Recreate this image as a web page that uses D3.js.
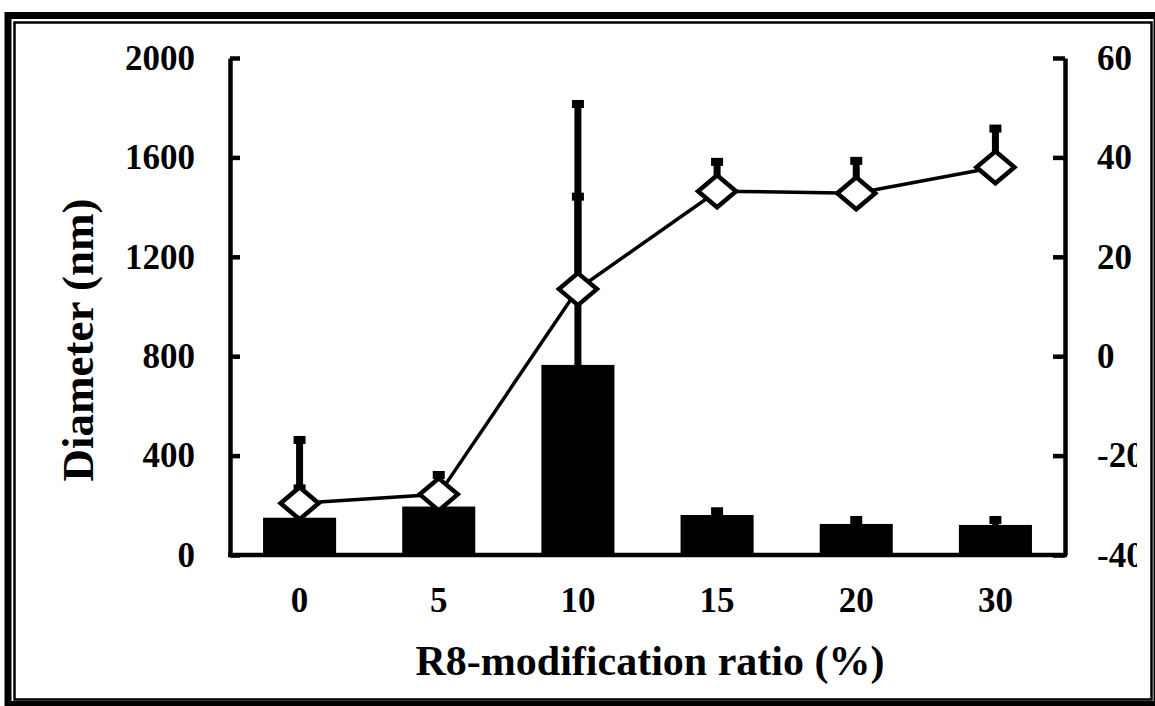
<!DOCTYPE html>
<html>
<head>
<meta charset="utf-8">
<script src="https://cdn.jsdelivr.net/npm/d3@7/dist/d3.min.js"></script>
<style>
  body { margin: 0; background: #fff; }
  svg { display: block; }
  text { font-family: "Liberation Serif", "Times New Roman", serif; font-weight: bold; fill: #000; }
</style>
</head>
<body>
<script>
var categories = ["0", "5", "10", "15", "20", "30"];
var diameter = [150, 195, 765, 161, 125, 121];
var diameterErr = [313, 40, 1050, 15, 16, 20];
var zeta = [-29.6, -27.8, 13.5, 33.2, 32.8, 38.0];
var zetaErr = [3, 3.9, 18.6, 5.9, 6.5, 7.8];
var leftTicks = [0, 400, 800, 1200, 1600, 2000];
var rightTicks = [-40, -20, 0, 20, 40, 60];

var width = 1155;
var height = 706;
var plotLeft = 230, plotRight = 1065, plotTop = 58, plotBottom = 555;

var svg = d3.select("body").append("svg").attr("width", width).attr("height", height);

// double frame
svg.append("rect")
    .attr("x", 8).attr("y", 15.5).attr("width", 1149).attr("height", 689)
    .attr("fill", "none").attr("stroke", "#000").attr("stroke-width", 7);
svg.append("rect")
    .attr("x", 14.5).attr("y", 22.5).attr("width", 1137).attr("height", 677)
    .attr("fill", "none").attr("stroke", "#000").attr("stroke-width", 2.5);

var xScale = d3.scaleBand()
    .domain(categories)
    .range([plotLeft, plotRight])
    .paddingInner(0.475)
    .paddingOuter(0.2375);

var yLeft = d3.scaleLinear().domain([0, 2000]).range([plotBottom, plotTop]);
var yRight = d3.scaleLinear().domain([-40, 60]).range([plotBottom, plotTop]);

function cx(i) { return xScale(categories[i]) + xScale.bandwidth() / 2; }
function plain(d) { return String(d); }

// bars
svg.append("g")
    .selectAll("rect")
    .data(diameter)
    .enter()
    .append("rect")
    .attr("x", function(d, i) { return xScale(categories[i]); })
    .attr("y", function(d) { return yLeft(d); })
    .attr("width", xScale.bandwidth())
    .attr("height", function(d) { return yLeft(0) - yLeft(d); })
    .attr("fill", "#000");

// error bars (upper only)
function errorBars(vals, errs, scale) {
    var g = svg.append("g");
    g.selectAll("line")
        .data(vals)
        .enter()
        .append("line")
        .attr("x1", function(d, i) { return cx(i); })
        .attr("x2", function(d, i) { return cx(i); })
        .attr("y1", function(d) { return scale(d); })
        .attr("y2", function(d, i) { return scale(d + errs[i]); })
        .attr("stroke", "#000")
        .attr("stroke-width", 7);
    g.selectAll("rect")
        .data(vals)
        .enter()
        .append("rect")
        .attr("x", function(d, i) { return cx(i) - 6; })
        .attr("y", function(d, i) { return scale(d + errs[i]) - 4; })
        .attr("width", 12)
        .attr("height", 8)
        .attr("fill", "#000");
}
errorBars(diameter, diameterErr, yLeft);
errorBars(zeta, zetaErr, yRight);

// zeta line
var line = d3.line()
    .x(function(d, i) { return cx(i); })
    .y(function(d) { return yRight(d); });
svg.append("path")
    .datum(zeta)
    .attr("d", line)
    .attr("fill", "none")
    .attr("stroke", "#000")
    .attr("stroke-width", 3.5);

// diamonds
svg.append("g")
    .selectAll("path")
    .data(zeta)
    .enter()
    .append("path")
    .attr("d", function(d, i) {
        var x = cx(i), y = yRight(d);
        return "M" + x + "," + (y - 16) + "L" + (x + 19) + "," + y + "L" + x + "," + (y + 16) + "L" + (x - 19) + "," + y + "Z";
    })
    .attr("fill", "#fff")
    .attr("stroke", "#000")
    .attr("stroke-width", 4.5);

// axes
var gl = svg.append("g")
    .attr("transform", "translate(" + plotLeft + ",0)")
    .call(d3.axisLeft(yLeft).tickValues(leftTicks).tickFormat(plain)
        .tickSizeInner(-10).tickSizeOuter(0).tickPadding(35));

var clip = svg.append("clipPath").attr("id", "rclip");
clip.append("rect").attr("x", 0).attr("y", 0).attr("width", 1137).attr("height", height);

var gr = svg.append("g")
    .attr("clip-path", "url(#rclip)")
    .append("g")
    .attr("transform", "translate(" + plotRight + ",0)")
    .call(d3.axisRight(yRight).tickValues(rightTicks).tickFormat(plain)
        .tickSizeInner(-12).tickSizeOuter(0).tickPadding(32));

var gb = svg.append("g")
    .attr("transform", "translate(0," + plotBottom + ")")
    .call(d3.axisBottom(xScale).tickSize(0).tickPadding(32));

[gl, gr, gb].forEach(function(g) {
    g.selectAll("path.domain").attr("stroke", "#000").attr("stroke-width", 4.5);
    g.selectAll(".tick line").attr("stroke", "#000").attr("stroke-width", 4.5);
    g.selectAll("text").attr("font-family", null).style("font-size", "35px").attr("fill", "#000");
});
gb.select("path.domain").attr("d", "M" + (plotLeft - 2) + ",0H" + (plotRight + 2));

// titles
svg.append("text")
    .attr("x", 650)
    .attr("y", 675)
    .attr("text-anchor", "middle")
    .style("font-size", "42px")
    .text("R8-modification ratio (%)");

svg.append("text")
    .attr("transform", "translate(93,340) rotate(-90)")
    .attr("text-anchor", "middle")
    .style("font-size", "45px")
    .text("Diameter (nm)");
</script>
</body>
</html>
